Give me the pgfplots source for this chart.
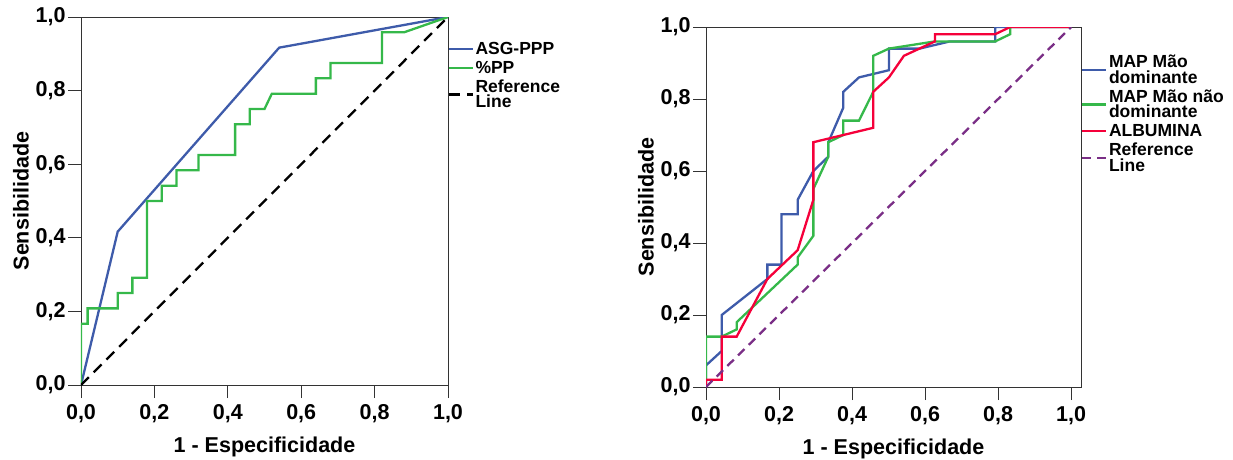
\documentclass[border=0pt]{standalone}
\usepackage{pgfplots}
\pgfplotsset{compat=1.18}
\usepackage{fontspec}
\setmainfont{Liberation Sans}

\definecolor{rocblue}{HTML}{3E5BAA}
\definecolor{rocgreen}{HTML}{35B84A}
\definecolor{rocred}{HTML}{F5003A}
\definecolor{rocpurple}{HTML}{7A2E86}

\pgfplotsset{
  rocaxis/.style={
    scale only axis,
    anchor=south west,
    ymin=0, ymax=1, xmin=0,
    xtick={0,0.2,0.4,0.6,0.8,1},
    ytick={0,0.2,0.4,0.6,0.8,1},
    axis line style={black!80, line width=0.9pt},
    tick style={black!80, line width=0.9pt},
    tick align=outside,
    major tick length=13pt,
    xtick pos=bottom, ytick pos=left,
    /pgf/number format/assume math mode=true,
    /pgf/number format/.cd, fixed, fixed zerofill, precision=1, use comma,
    /pgfplots/.cd,
    ticklabel style={font=\fontsize{21.5}{21}\selectfont\bfseries},
    xticklabel style={yshift=-3pt},
    yticklabel style={xshift=1pt},
    label style={font=\fontsize{21.5}{22}\selectfont\bfseries},
    xlabel={1 - Especificidade},
    xlabel style={yshift=-7pt},
    ylabel={Sensibilidade},
    legend style={anchor=north west, draw=none, fill=none,
      inner xsep=0pt, inner ysep=0pt,
      font=\fontsize{17.5}{15.5}\selectfont\bfseries,
      cells={anchor=west, align=left},
      nodes={inner xsep=1.5pt, inner ysep=1pt},
      row sep=3pt},
    legend image code/.code={\draw[##1] (-1.5pt,0pt) -- (22pt,0pt);},
    every axis plot/.append style={line width=2.3pt},
  }
}

\begin{document}
\begin{tikzpicture}
\useasboundingbox (0,0) rectangle (1233pt,459pt);

\begin{axis}[rocaxis,
  at={(81pt,74pt)},
  width=367pt, height=368pt,
  xmax=1,
  legend style={at={(1,0.935)}},
]
\addplot[rocblue] coordinates {
  (0,0) (0.1,0.4167) (0.54,0.9167) (1,1)
};
\addlegendentry{ASG-PPP}
\addplot[rocgreen] coordinates {
  (0,0) (0,0.1667) (0.018,0.1667) (0.018,0.2083) (0.1,0.2083) (0.1,0.25)
  (0.14,0.25) (0.14,0.2917) (0.18,0.2917) (0.18,0.5) (0.22,0.5) (0.22,0.5417)
  (0.26,0.5417) (0.26,0.5833) (0.32,0.5833) (0.32,0.625) (0.42,0.625) (0.42,0.7083)
  (0.46,0.7083) (0.46,0.75) (0.50,0.75) (0.52,0.7917) (0.64,0.7917) (0.64,0.8333)
  (0.68,0.8333) (0.68,0.875) (0.82,0.875) (0.82,0.9583) (0.88,0.9583) (1,1)
};
\addlegendentry{\%PP}
\addplot[black, dash pattern=on 11pt off 7pt] coordinates {(0,0) (1,1)};
\addlegendentry{Reference\\Line}
\end{axis}

\begin{axis}[rocaxis,
  at={(706pt,72pt)},
  width=375pt, height=360pt,
  xmax=1.027,
  legend style={at={(1,0.925)}},
  legend image code/.code={\draw[#1] (0pt,0pt) -- (24pt,0pt);},
]
\addplot[rocblue] coordinates {
  (0,0) (0,0.06) (0.043,0.10) (0.043,0.20) (0.168,0.30) (0.168,0.34) (0.207,0.34)
  (0.207,0.48) (0.251,0.48) (0.251,0.52) (0.294,0.60) (0.335,0.64) (0.335,0.68)
  (0.376,0.776) (0.376,0.82) (0.419,0.86) (0.501,0.88) (0.501,0.94) (0.585,0.94)
  (0.668,0.96) (0.792,0.96) (0.792,1.0) (1,1)
};
\addlegendentry{MAP Mão\\dominante}
\addplot[rocgreen] coordinates {
  (0,0) (0,0.14) (0.043,0.14) (0.084,0.16) (0.084,0.18) (0.251,0.34) (0.251,0.36)
  (0.294,0.42) (0.294,0.55) (0.335,0.64) (0.335,0.68) (0.376,0.70) (0.376,0.74)
  (0.419,0.74) (0.458,0.82) (0.458,0.92) (0.501,0.94) (0.627,0.96) (0.792,0.96)
  (0.833,0.98) (0.833,1.0) (1,1)
};
\addlegendentry{MAP Mão não\\dominante}
\addplot[rocred] coordinates {
  (0,0) (0,0.02) (0.043,0.02) (0.043,0.14) (0.084,0.14) (0.168,0.30) (0.251,0.38)
  (0.294,0.52) (0.294,0.68) (0.458,0.72) (0.458,0.82) (0.501,0.86) (0.542,0.92)
  (0.627,0.96) (0.627,0.98) (0.792,0.98) (0.833,1.0) (1,1)
};
\addlegendentry{ALBUMINA}
\addplot[rocpurple, dash pattern=on 9pt off 6pt] coordinates {(0,0) (1,1)};
\addlegendentry{Reference\\Line}
\end{axis}
\end{tikzpicture}
\end{document}
